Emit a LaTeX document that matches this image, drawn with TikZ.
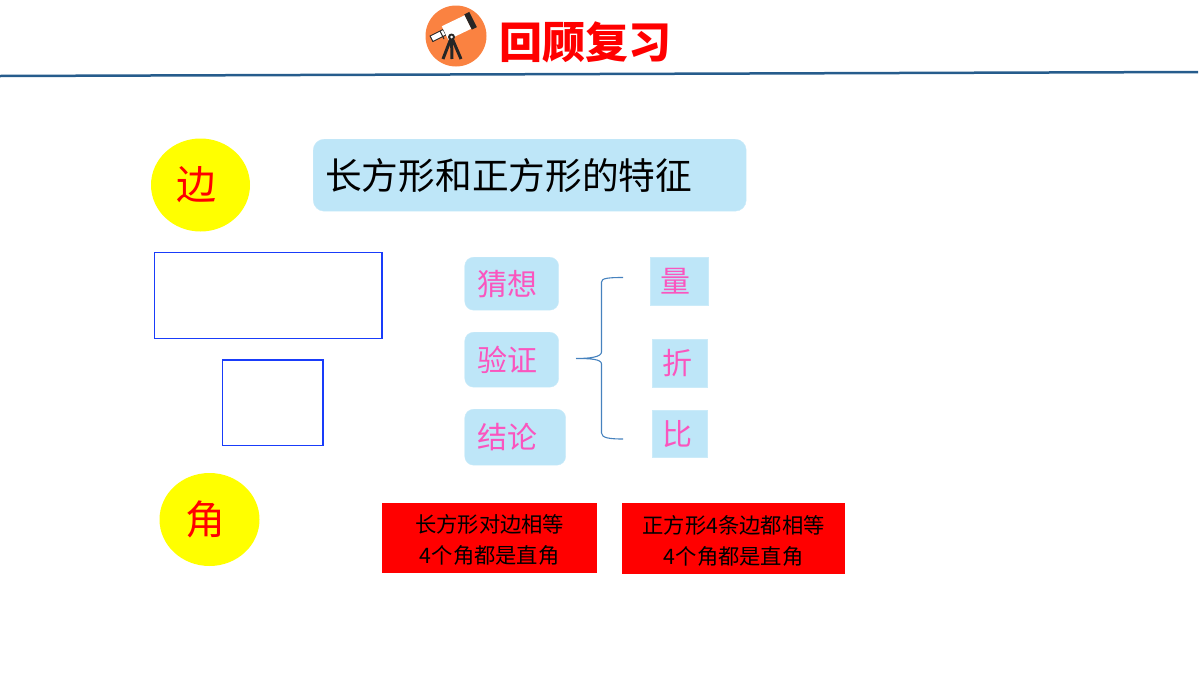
\documentclass[tikz,border=0pt]{standalone}
\usepackage{fontspec}
\usetikzlibrary{shapes.geometric}
\newfontfamily\cjk{Noto Sans CJK SC}
\newcommand{\cjksize}[1]{\fontsize{#1}{#1}\selectfont\cjk}
\definecolor{softblue}{RGB}{190,230,248}
\definecolor{softpink}{RGB}{250,85,190}
\definecolor{bracecol}{RGB}{70,130,190}
\definecolor{rulecol}{RGB}{38,92,140}
\definecolor{iconorange}{RGB}{250,130,65}
\definecolor{boxblue}{RGB}{25,60,250}
\definecolor{sunyellow}{RGB}{255,255,0}
\definecolor{notered}{RGB}{255,0,0}
\begin{document}
\begin{tikzpicture}[%
            x=1pt, y=-1pt,
            mycircle/.style={shape=ellipse, fill=sunyellow, text=notered, inner sep=0pt, font=\cjksize{40}},
            myoutline/.style={draw=boxblue, line width=1.2pt, fill=none},
            mysoft/.style={shape=rectangle, fill=softblue, draw=softblue!80!white, rounded corners=9pt, text=softpink, align=left, inner ysep=0pt, inner xsep=13pt, font=\cjksize{30}},
            myplain/.style={shape=rectangle, fill=softblue, draw=softblue!80!white, text=softpink, align=left, inner ysep=0pt, inner xsep=10pt, font=\cjksize{30}},
            myred/.style={shape=rectangle, fill=notered, text=black, align=center, inner sep=0pt, font=\fontsize{21.3}{31}\selectfont\cjk},
            mytube/.style={line cap=butt, draw=black!85}
    ]
        \useasboundingbox (0,0) rectangle (1200,675);

        % header
        \draw [rulecol, line width=2.5pt] (0,76) -- (1198,72);
        \path [fill=iconorange] (456,36) circle (30.5);
        \draw [mytube, line width=7pt] (431,39) -- (445,32);
        \draw [white, line width=5pt] (432,38.5) -- (444,32.5);
        \draw [white, line width=15pt] (445,33) -- (468,22);
        \draw [mytube, line width=17pt] (468,22) -- (473,19.5);
        \draw [black!85, line width=1pt] (440,31) -- (444,39);
        \draw [black!85, line width=3pt] (451.5,37) -- (443,59);
        \draw [black!85, line width=3pt] (451.5,37) -- (452,59);
        \draw [black!85, line width=3pt] (451.5,37) -- (461,59);
        \path [fill=black!85] (451.5,37) circle (3.5);
        \path [fill=white] (451.5,37) circle (1.5);
        \node (title) [anchor=west, text=notered, inner sep=0pt, font=\fontsize{43}{43}\selectfont\cjk\bfseries] at (499,42) {回顾复习};

        % heading
        \node (main) [mysoft, text=black, anchor=north west, minimum width=433pt, minimum height=72pt, text width=409pt, inner xsep=12pt, rounded corners=11pt, font=\cjksize{36.7}] at (313,139) {长方形和正方形的特征};

        % side and angle
        \node (side) [mycircle, minimum width=99pt, minimum height=93pt] at (200.5,185) {边\rule{8pt}{0pt}};
        \node (angle) [mycircle, minimum width=100pt, minimum height=93pt] at (209.5,519.5) {角\rule{9pt}{0pt}};
        \draw [myoutline] (154.5,252.5) rectangle (382,338.5);
        \draw [myoutline] (222.5,360) rectangle (323,445.5);

        % steps
        \node (guess) [mysoft, anchor=north west, minimum width=94pt, minimum height=53pt, text width=68pt] at (464.5,257) {猜想};
        \node (check) [mysoft, anchor=north west, minimum width=94pt, minimum height=55pt, text width=68pt] at (464.5,332) {验证};
        \node (result) [mysoft, anchor=north west, minimum width=101pt, minimum height=56pt, text width=75pt] at (464.5,409) {结论};

        % methods
        \node (measure) [myplain, anchor=north west, minimum width=57.5pt, minimum height=48pt, text width=37.5pt] at (650,257) {量};
        \node (fold) [myplain, anchor=north west, minimum width=55pt, minimum height=48pt, text width=35pt] at (652,339) {折};
        \node (compare) [myplain, anchor=north west, minimum width=55pt, minimum height=47pt, text width=35pt] at (652,410) {比};

        % brace
        \coordinate (bracetop) at (623,277.5);
        \coordinate (bracetip) at (576,358.5);
        \coordinate (bracebot) at (623,439);
        \draw [bracecol, line width=1.1pt]
            (bracetop) .. controls (610,277.5) and (601,278) .. (601.5,282) -- (601.5,352)
            .. controls (601.5,357) and (590,358.5) .. (bracetip)
            .. controls (590,358.5) and (601.5,359) .. (601.5,364) -- (601.5,433)
            .. controls (601.5,438) and (610,439) .. (bracebot);

        % results
        \node (rectnote) [myred, anchor=north west, minimum width=215pt, minimum height=70pt] at (382,503) {\rule{0pt}{22pt}长方形对边相等\\4个角都是直角};
        \node (squarenote) [myred, anchor=north west, minimum width=223pt, minimum height=71pt] at (622,503) {\rule{0pt}{22pt}正方形4条边都相等\\4个角都是直角};
    \end{tikzpicture}
\end{document}
